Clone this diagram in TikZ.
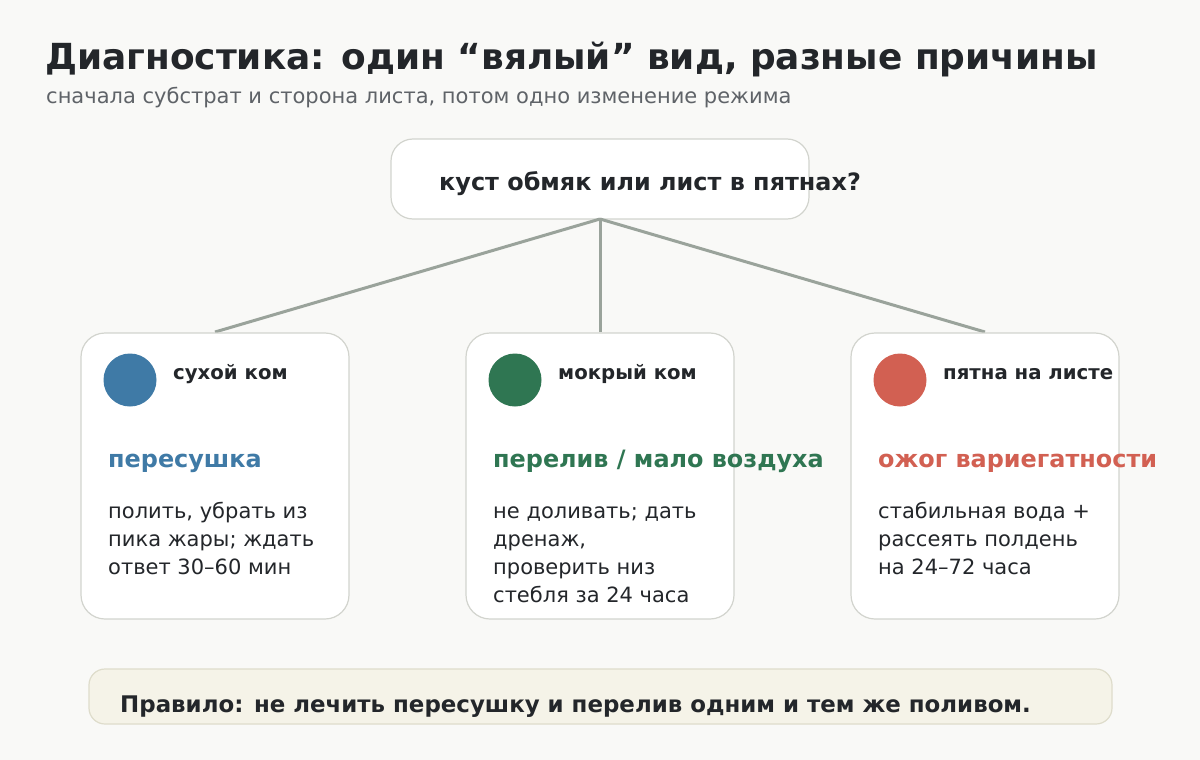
\documentclass[tikz,border=0pt]{standalone}
\usepackage{fontspec}
\setmainfont{DejaVu Sans}
\definecolor{bg}{HTML}{F9F9F7}
\definecolor{ink}{HTML}{23262A}
\definecolor{sub}{HTML}{5F6368}
\definecolor{edge}{HTML}{D2D4CE}
\definecolor{wire}{HTML}{9AA39B}
\definecolor{cblue}{HTML}{3F7AA6}
\definecolor{cgreen}{HTML}{2F7652}
\definecolor{cred}{HTML}{D26052}
\definecolor{notefill}{HTML}{F5F3E8}
\definecolor{noteedge}{HTML}{DEDCCB}
\tikzset{
  txt/.style={anchor=base west, inner sep=0pt, text=ink},
  card/.style={draw=edge, line width=1.2pt, fill=white, rounded corners=24pt},
  dot/.style={circle, inner sep=0pt, minimum size=53pt},
  wireline/.style={draw=wire, line width=3pt},
  label/.style={txt, font=\bfseries\fontsize{19.7}{24}\selectfont},
  head/.style={txt, font=\bfseries\fontsize{23.9}{28}\selectfont},
  body/.style={txt, font=\fontsize{21}{28}\selectfont, align=left},
}
\begin{document}
\begin{tikzpicture}[x=1pt,y=-1pt]
\useasboundingbox (0,0) rectangle (1200,760);
\fill[bg] (0,0) rectangle (1200,760);

\node[txt, font=\bfseries\fontsize{35.9}{42}\selectfont] (title) at (45,70) {Диагностика: один “вялый” вид, разные причины};
\node[txt, text=sub, font=\fontsize{21}{26}\selectfont] (subtitle) at (46,103) {сначала субстрат и сторона листа, потом одно изменение режима};

% top question box
\draw[card, rounded corners=22pt] (391,139) rectangle (809,219);
\coordinate (qtop) at (600,219);
\node[txt, font=\bfseries\fontsize{23.9}{28}\selectfont] (q) at (439,190) {куст обмяк или лист в пятнах?};

% connectors
\coordinate (c1) at (215,332);
\coordinate (c2) at (600,332);
\coordinate (c3) at (985,332);
\draw[wireline] (qtop) -- (c1);
\draw[wireline] (qtop) -- (c2);
\draw[wireline] (qtop) -- (c3);

% cards
\draw[card] (81,333) rectangle (349,619);
\draw[card] (466,333) rectangle (734,619);
\draw[card] (851,333) rectangle (1119,619);

\node[dot, fill=cblue] (d1) at (130,380) {};
\node[dot, fill=cgreen] (d2) at (515,380) {};
\node[dot, fill=cred] (d3) at (900,380) {};

\node[label] (l1) at (173,379) {сухой ком};
\node[label] (l2) at (558,379) {мокрый ком};
\node[label] (l3) at (943,379) {пятна на листе};

\node[head, text=cblue] (h1) at (108,467) {пересушка};
\node[head, text=cgreen] (h2) at (493,467) {перелив / мало воздуха};
\node[head, text=cred] (h3) at (878,467) {ожог вариегатности};

\node[body] (b1) at (108,574) {полить, убрать из\\пика жары; ждать\\ответ 30–60 мин};
\node[body] (b2) at (493,602) {не доливать; дать\\дренаж,\\проверить низ\\стебля за 24 часа};
\node[body] (b3) at (878,574) {стабильная вода +\\рассеять полдень\\на 24–72 часа};

% bottom note
\draw[draw=noteedge, line width=1.2pt, fill=notefill, rounded corners=16pt] (89,669) rectangle (1112,724);
\node[txt, font=\bfseries\fontsize{22.9}{27}\selectfont] (rule) at (120,712) {Правило: не лечить пересушку и перелив одним и тем же поливом.};
\end{tikzpicture}
\end{document}
